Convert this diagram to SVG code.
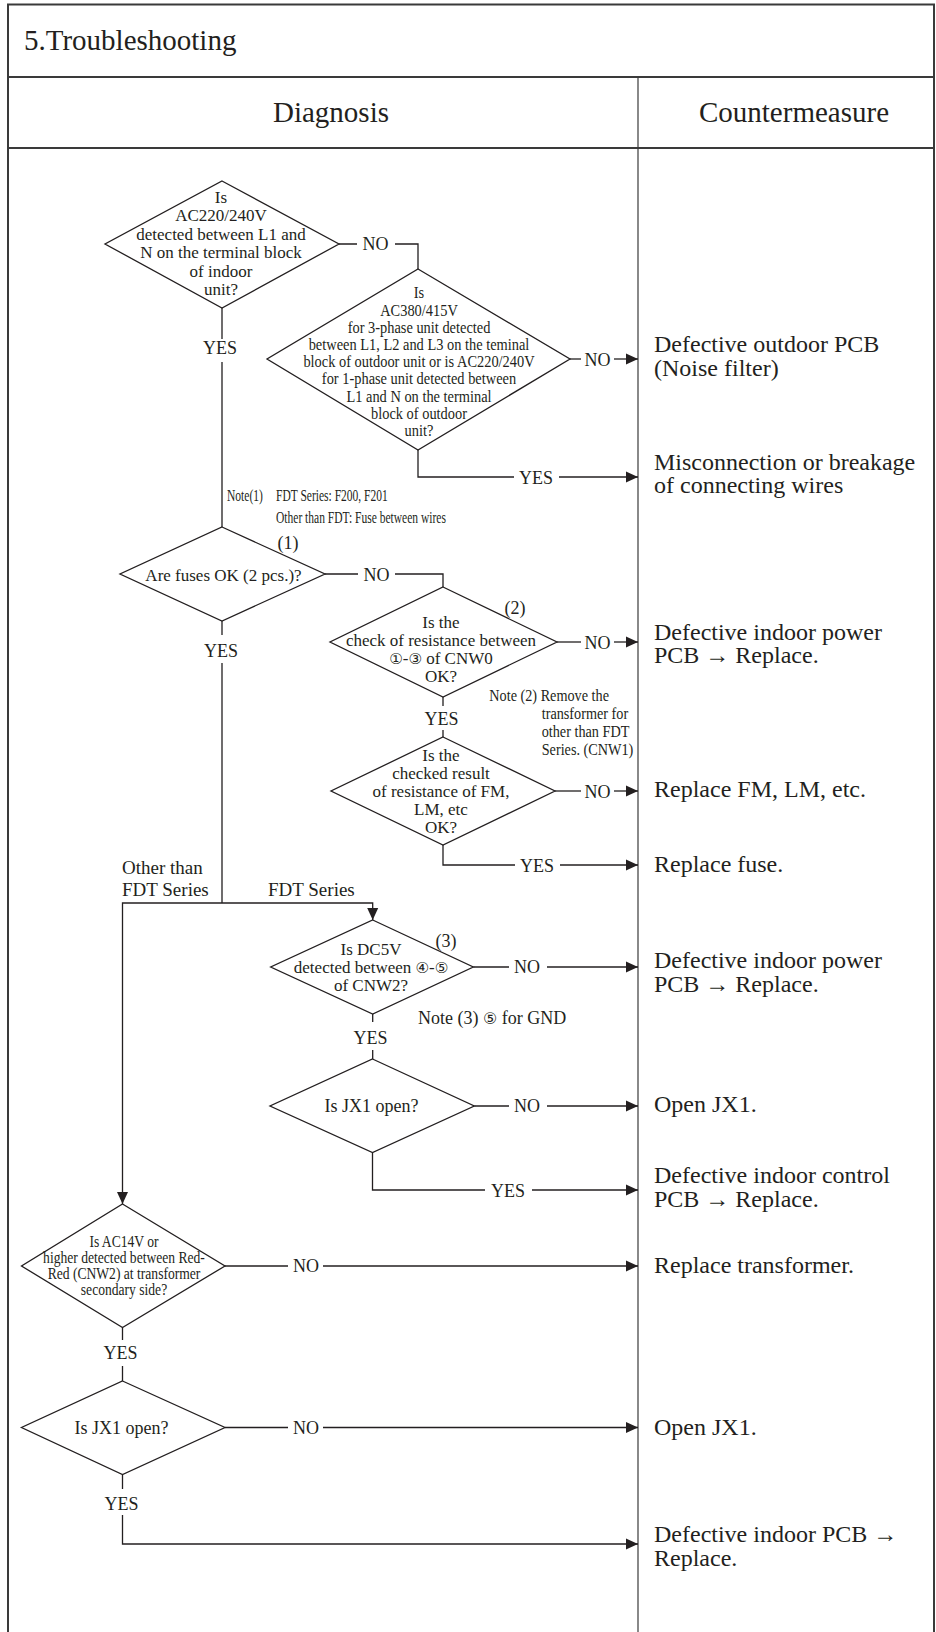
<svg xmlns="http://www.w3.org/2000/svg" width="936" height="1632" viewBox="0 0 936 1632">
  <defs>
    <style>
      .frame { fill: none; stroke: #3a3a3a; stroke-width: 2; }
      .rule { fill: none; stroke: #3a3a3a; stroke-width: 1.2; }
      .ln { fill: none; stroke: #231f20; stroke-width: 1.3; }
      .arw { fill: none; stroke: #231f20; stroke-width: 1.3; marker-end: url(#ah); }
      .dm { fill: #ffffff; stroke: #231f20; stroke-width: 1.3; }
      text { font-family: "Liberation Serif", "Times New Roman", serif; fill: #231f20; }
      .hd { font-size: 29px; }
      .q { font-size: 17px; text-anchor: middle; }
      .qn { font-size: 16px; text-anchor: middle; }
      .lb { font-size: 18px; text-anchor: middle; }
      .nt { font-size: 16px; }
      .cm { font-size: 24px; }
      .br { font-size: 19px; }
      .cd { font-family: "DejaVu Sans", "Noto Sans CJK JP", sans-serif; font-size: 15px; }
    </style>
    <marker id="ah" markerUnits="userSpaceOnUse" markerWidth="12" markerHeight="12" viewBox="0 0 12 12" refX="12" refY="6" orient="auto">
      <path d="M0,0.5 L12,6 L0,11.5 Z" fill="#231f20"/>
    </marker>
  </defs>

  <rect width="936" height="1632" fill="#ffffff"/>

  <!-- table frame -->
  <g id="frame">
    <path class="frame" d="M8,1632 V4.5 H934 V1632"/>
    <path class="frame" d="M8,77 H934 M8,148 H934"/>
    <path class="rule" d="M638,77 V1632"/>
    <text class="hd" x="24" y="50">5.Troubleshooting</text>
    <text class="hd" x="331" y="122" text-anchor="middle">Diagnosis</text>
    <text class="hd" x="794" y="122" text-anchor="middle">Countermeasure</text>
  </g>

  <!-- connectors -->
  <g id="connectors">
    <path class="ln" d="M339,244 H357 M395,244 H418 V269"/>
    <path class="ln" d="M570,359 H581"/>
    <path class="arw" d="M614,359 H638"/>
    <path class="ln" d="M418,450 V477 H514"/>
    <path class="arw" d="M559,477 H638"/>
    <path class="ln" d="M222,308 V339 M222,362 V527"/>
    <path class="ln" d="M325,574 H358 M395,574 H443 V587"/>
    <path class="ln" d="M222,621 V635 M222,663 V903"/>
    <path class="arw" d="M222,903 H372.7 V920"/>
    <path class="arw" d="M222,903 H122.5 V1204"/>
    <path class="ln" d="M557,642 H581"/>
    <path class="arw" d="M614,642 H638"/>
    <path class="ln" d="M443,697 V706 M443,730 V737"/>
    <path class="ln" d="M555,791 H581"/>
    <path class="arw" d="M614,791 H638"/>
    <path class="ln" d="M443,845 V865 H515"/>
    <path class="arw" d="M560,865 H638"/>
    <path class="ln" d="M473.3,967 H509"/>
    <path class="arw" d="M547,967 H638"/>
    <path class="ln" d="M372.7,1014 V1022 M372.7,1050 V1059"/>
    <path class="ln" d="M474.3,1106 H509"/>
    <path class="arw" d="M547,1106 H638"/>
    <path class="ln" d="M372.5,1152.5 V1190 H485"/>
    <path class="arw" d="M532,1190 H638"/>
    <path class="ln" d="M225,1266 H288"/>
    <path class="arw" d="M323,1266 H638"/>
    <path class="ln" d="M122.5,1327.5 V1340 M122.5,1366 V1381"/>
    <path class="ln" d="M225,1427.5 H288"/>
    <path class="arw" d="M323,1427.5 H638"/>
    <path class="ln" d="M122.5,1474.5 V1489"/>
    <path class="arw" d="M122.5,1515 V1544 H638"/>

    <!-- branch labels -->
    <text class="lb" x="375.5" y="250">NO</text>
    <text class="lb" x="597.5" y="366">NO</text>
    <text class="lb" x="536" y="484">YES</text>
    <text class="lb" x="220" y="354">YES</text>
    <text class="lb" x="376.5" y="581">NO</text>
    <text class="lb" x="221" y="657">YES</text>
    <text class="lb" x="597.5" y="649">NO</text>
    <text class="lb" x="441.5" y="725">YES</text>
    <text class="lb" x="597.5" y="798">NO</text>
    <text class="lb" x="537" y="872">YES</text>
    <text class="lb" x="527" y="973">NO</text>
    <text class="lb" x="370.5" y="1044">YES</text>
    <text class="lb" x="527" y="1112">NO</text>
    <text class="lb" x="508" y="1197">YES</text>
    <text class="lb" x="306" y="1272">NO</text>
    <text class="lb" x="120.5" y="1359">YES</text>
    <text class="lb" x="306" y="1434">NO</text>
    <text class="lb" x="121.5" y="1510">YES</text>
    <text class="br" x="122" y="874">Other than</text>
    <text class="br" x="122" y="896">FDT Series</text>
    <text class="br" x="268" y="896">FDT Series</text>
  </g>

  <!-- Q1: indoor supply voltage -->
  <g id="q-indoor-voltage">
    <polygon class="dm" points="222,181 339,244 222,308 105,244"/>
    <text class="q" x="221" y="203">Is</text>
    <text class="q" x="221" y="221.4">AC220/240V</text>
    <text class="q" x="221" y="239.8">detected between L1 and</text>
    <text class="q" x="221" y="258.2">N on the terminal block</text>
    <text class="q" x="221" y="276.6">of indoor</text>
    <text class="q" x="221" y="295">unit?</text>
  </g>

  <!-- Q2: outdoor supply voltage -->
  <g id="q-outdoor-voltage">
    <polygon class="dm" points="418,269 570,359 418,450 267,359"/>
    <g transform="translate(419 0) scale(0.9 1)">
      <text class="qn" x="0" y="298.5">Is</text>
      <text class="qn" x="0" y="315.7">AC380/415V</text>
      <text class="qn" x="0" y="332.9">for 3-phase unit detected</text>
      <text class="qn" x="0" y="350.1">between L1, L2 and L3 on the teminal</text>
      <text class="qn" x="0" y="367.3">block of outdoor unit or is AC220/240V</text>
      <text class="qn" x="0" y="384.5">for 1-phase unit detected between</text>
      <text class="qn" x="0" y="401.7">L1 and N on the terminal</text>
      <text class="qn" x="0" y="418.9">block of outdoor</text>
      <text class="qn" x="0" y="436.1">unit?</text>
    </g>
  </g>

  <!-- note 1 -->
  <g id="note-1">
    <text class="nt" transform="translate(227 0) scale(0.72 1)" x="0" y="501">Note(1)</text>
    <text class="nt" transform="translate(276 0) scale(0.72 1)" x="0" y="501">FDT Series: F200, F201</text>
    <text class="nt" transform="translate(276 0) scale(0.72 1)" x="0" y="523">Other than FDT: Fuse between wires</text>
  </g>

  <!-- Q3: fuses -->
  <g id="q-fuses">
    <polygon class="dm" points="222,527 325,574 222,621 120,574"/>
    <text class="q" x="223.5" y="581">Are fuses OK (2 pcs.)?</text>
    <text class="lb" x="288" y="549">(1)</text>
  </g>

  <!-- Q4: CNW0 resistance -->
  <g id="q-cnw0">
    <polygon class="dm" points="443,587 557,642 443,697 330,642"/>
    <text class="q" x="441" y="627.7">Is the</text>
    <text class="q" x="441" y="645.7">check of resistance between</text>
    <text class="q" x="441" y="664"><tspan class="cd">①</tspan>-<tspan class="cd">③</tspan> of CNW0</text>
    <text class="q" x="441" y="682">OK?</text>
    <text class="lb" x="515" y="614">(2)</text>
  </g>

  <!-- note 2 -->
  <g id="note-2">
    <text class="nt" transform="translate(489.3 0) scale(0.89 1)" x="0" y="700.7">Note (2) Remove the</text>
    <text class="nt" transform="translate(541.7 0) scale(0.89 1)" x="0" y="718.7">transformer for</text>
    <text class="nt" transform="translate(541.7 0) scale(0.89 1)" x="0" y="736.7">other than FDT</text>
    <text class="nt" transform="translate(541.7 0) scale(0.89 1)" x="0" y="754.7">Series. (CNW1)</text>
  </g>

  <!-- Q5: motor resistance -->
  <g id="q-motors">
    <polygon class="dm" points="443,737 555,791 443,845 331,791"/>
    <text class="q" x="441" y="761">Is the</text>
    <text class="q" x="441" y="779">checked result</text>
    <text class="q" x="441" y="797">of resistance of FM,</text>
    <text class="q" x="441" y="815">LM, etc</text>
    <text class="q" x="441" y="833">OK?</text>
  </g>

  <!-- Q6: DC5V on CNW2 -->
  <g id="q-dc5v">
    <polygon class="dm" points="372.7,920 473.3,967 372.7,1014 270.7,967"/>
    <text class="q" x="371" y="955">Is DC5V</text>
    <text class="q" x="371" y="973">detected between <tspan class="cd">④</tspan>-<tspan class="cd">⑤</tspan></text>
    <text class="q" x="371" y="991">of CNW2?</text>
    <text class="lb" x="446" y="947">(3)</text>
    <text style="font-size:18px" x="418" y="1024">Note (3) <tspan class="cd" style="font-size:16px">⑤</tspan> for GND</text>
  </g>

  <!-- Q7: JX1 (FDT) -->
  <g id="q-jx1-fdt">
    <polygon class="dm" points="372.5,1059 474.3,1106 372.5,1152.5 270,1106"/>
    <text class="lb" x="371.5" y="1112">Is JX1 open?</text>
  </g>

  <!-- Q8: transformer secondary -->
  <g id="q-transformer">
    <polygon class="dm" points="122.5,1204 225,1266 122.5,1327.5 21.5,1266"/>
    <g transform="translate(124 0) scale(0.85 1)">
      <text class="qn" x="0" y="1247">Is AC14V or</text>
      <text class="qn" x="0" y="1263">higher detected between Red-</text>
      <text class="qn" x="0" y="1279">Red (CNW2) at transformer</text>
      <text class="qn" x="0" y="1295">secondary side?</text>
    </g>
  </g>

  <!-- Q9: JX1 (other) -->
  <g id="q-jx1-other">
    <polygon class="dm" points="122.5,1381 225,1427.5 122.5,1474.5 21.5,1427.5"/>
    <text class="lb" x="121.5" y="1433.5">Is JX1 open?</text>
  </g>

  <!-- countermeasures -->
  <g id="cm-outdoor-pcb"><text class="cm" x="654" y="352">Defective outdoor PCB</text><text class="cm" x="654" y="375.5">(Noise filter)</text></g>
  <g id="cm-wiring"><text class="cm" x="654" y="469.5">Misconnection or breakage</text><text class="cm" x="654" y="493">of connecting wires</text></g>
  <g id="cm-power-pcb-1"><text class="cm" x="654" y="639.5">Defective indoor power</text><text class="cm" x="654" y="663">PCB → Replace.</text></g>
  <g id="cm-motors"><text class="cm" x="654" y="797">Replace FM, LM, etc.</text></g>
  <g id="cm-fuse"><text class="cm" x="654" y="872">Replace fuse.</text></g>
  <g id="cm-power-pcb-2"><text class="cm" x="654" y="968">Defective indoor power</text><text class="cm" x="654" y="991.5">PCB → Replace.</text></g>
  <g id="cm-jx1-fdt"><text class="cm" x="654" y="1112">Open JX1.</text></g>
  <g id="cm-control-pcb"><text class="cm" x="654" y="1183">Defective indoor control</text><text class="cm" x="654" y="1206.5">PCB → Replace.</text></g>
  <g id="cm-transformer"><text class="cm" x="654" y="1272.5">Replace transformer.</text></g>
  <g id="cm-jx1-other"><text class="cm" x="654" y="1434.5">Open JX1.</text></g>
  <g id="cm-indoor-pcb"><text class="cm" x="654" y="1542">Defective indoor PCB →</text><text class="cm" x="654" y="1565.5">Replace.</text></g>
</svg>
